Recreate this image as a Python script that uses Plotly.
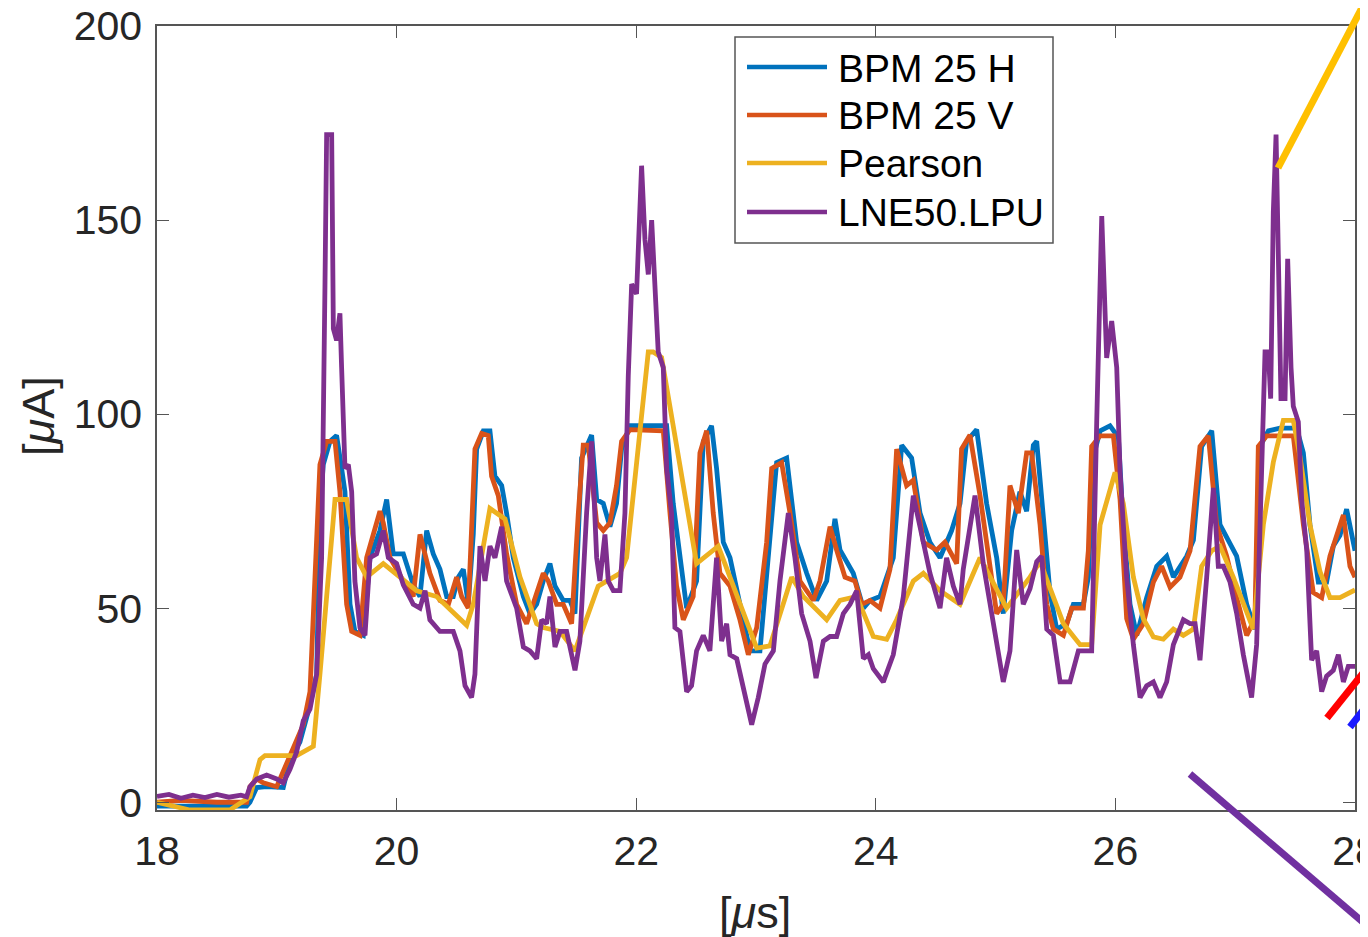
import plotly.graph_objects as go

# BPM 25 H
bpm_h_t = [18.0, 18.3, 18.748, 18.776, 18.832, 18.915, 18.999, 19.054, 19.110, 19.193, 19.277, 19.333,
           19.360, 19.388, 19.444, 19.499, 19.541, 19.569, 19.611, 19.652, 19.722, 19.778, 19.861, 19.917,
           19.972, 20.056, 20.139, 20.195, 20.251, 20.306, 20.362, 20.418, 20.473, 20.515, 20.557, 20.598,
           20.640, 20.668, 20.724, 20.779, 20.821, 20.877, 20.918, 20.974, 21.058, 21.113, 21.169, 21.224,
           21.280, 21.322, 21.391, 21.447, 21.489, 21.544, 21.628, 21.670, 21.725, 21.781, 21.836, 21.878,
           21.948, 22.254, 22.309, 22.365, 22.421, 22.504, 22.560, 22.629, 22.671, 22.727, 22.783, 22.866,
           22.950, 23.033, 23.103, 23.172, 23.256, 23.339, 23.423, 23.506, 23.590, 23.659, 23.701, 23.812,
           23.896, 23.951, 24.035, 24.146, 24.216, 24.299, 24.369, 24.452, 24.536, 24.633, 24.703, 24.758,
           24.842, 24.925, 25.009, 25.064, 25.134, 25.203, 25.259, 25.315, 25.343, 25.399, 25.454, 25.510,
           25.593, 25.649, 25.733, 25.774, 25.816, 25.872, 25.955, 26.025, 26.066, 26.122, 26.178, 26.261,
           26.345, 26.428, 26.484, 26.595, 26.651, 26.720, 26.804, 26.873, 26.943, 27.012, 27.096, 27.165,
           27.207, 27.277, 27.374, 27.513, 27.569, 27.624, 27.694, 27.763, 27.819, 27.875, 27.930, 28.0]
bpm_h = [-1, -1, -1, 0, 3.8, 4, 3.8, 3.8, 11, 15.5, 25, 33,
         75, 87, 93, 94.5, 86, 80, 51, 44, 43, 63, 70, 78,
         64, 64, 56, 53, 70, 64, 60, 53, 53, 58, 60, 51,
         69, 91, 95.7, 95.7, 84, 81.6, 74.5, 63, 53, 48.6, 51, 57,
         61.5, 55.7, 52, 52, 48.6, 88.7, 94.6, 78, 77, 71, 77, 91,
         97, 97, 77, 63, 50, 57, 93, 97, 86, 67, 63, 51,
         39, 39, 63, 87.5, 88.7, 67, 59, 52, 57, 73, 65, 59,
         50, 52, 53, 63, 92, 88.7, 74.5, 67, 63, 70, 77, 93,
         96, 77, 63, 48.6, 70, 80, 75, 92, 93, 71.5, 54, 44.6,
         46, 51, 51, 58, 89, 95.7, 97, 94, 71.5, 51, 43, 52.7,
         60.8, 63.4, 58, 63.4, 67.5, 91.7, 95.7, 71.5, 67.5, 63.4, 51, 44.6,
         91.7, 95.7, 96.4, 96.4, 90, 71.5, 56.7, 56.7, 66, 68.8, 75.5, 64.8]

# BPM 25 V
bpm_v_t = [18.0, 18.2, 18.5, 18.748, 18.776, 18.832, 18.887, 18.999, 19.110, 19.221, 19.277, 19.333,
           19.360, 19.416, 19.486, 19.527, 19.583, 19.625, 19.694, 19.750, 19.861, 19.889, 19.945, 20.056,
           20.139, 20.195, 20.278, 20.362, 20.432, 20.501, 20.543, 20.598, 20.626, 20.654, 20.710, 20.765,
           20.793, 20.849, 20.918, 21.002, 21.085, 21.141, 21.224, 21.266, 21.336, 21.391, 21.461, 21.517,
           21.558, 21.600, 21.670, 21.725, 21.781, 21.836, 21.878, 21.948, 22.031, 22.226, 22.282, 22.337,
           22.393, 22.476, 22.532, 22.588, 22.643, 22.699, 22.783, 22.866, 22.936, 23.006, 23.089, 23.131,
           23.214, 23.284, 23.367, 23.479, 23.534, 23.618, 23.673, 23.743, 23.826, 23.882, 23.951, 24.035,
           24.118, 24.174, 24.257, 24.313, 24.397, 24.508, 24.577, 24.675, 24.716, 24.786, 24.870, 24.953,
           25.009, 25.064, 25.120, 25.190, 25.259, 25.301, 25.371, 25.427, 25.482, 25.566, 25.635, 25.733,
           25.774, 25.802, 25.872, 25.983, 26.039, 26.094, 26.150, 26.233, 26.317, 26.386, 26.456, 26.539,
           26.623, 26.706, 26.776, 26.845, 26.929, 27.012, 27.096, 27.165, 27.193, 27.263, 27.485, 27.569,
           27.652, 27.722, 27.791, 27.903, 27.958, 28.0]
bpm_v = [0, 0.5, 0, 0, 4, 6, 5, 4, 12, 20, 28.5, 69,
         87, 93, 93, 80, 51, 44, 43, 63, 75, 72, 63, 57,
         53, 69, 59, 52, 51, 58, 53, 50, 74.5, 91, 95, 94.5,
         84, 79, 64, 51, 46, 51, 59, 57, 51, 51, 46, 74.5,
         92, 92, 72, 70, 72, 81.6, 93, 96, 96, 95.7, 74.5, 55.7,
         47, 53, 90, 95.7, 74.5, 59, 55.7, 47, 38, 45, 67, 86,
         87.5, 74.5, 57, 52, 57, 71, 65, 58, 57, 51, 52, 50,
         60, 91, 81.6, 83, 67, 65, 67, 61.5, 91, 94.6, 79, 60,
         48.6, 51, 81.6, 74.5, 90, 90, 71.5, 51, 44.6, 43, 50, 50,
         64.8, 91.7, 94.4, 94.4, 78, 47.3, 42, 46, 56.7, 60.8, 55.4, 58,
         64.8, 91.7, 94.4, 71.5, 63.4, 52.7, 43, 47.3, 91.7, 94.4, 94.4, 71.5,
         54, 52.7, 63.4, 74, 60.8, 58]

# Pearson
pearson_t = [18.0, 18.275, 18.609, 18.776, 18.860, 18.901, 19.166, 19.305, 19.360, 19.444, 19.486, 19.583,
             19.666, 19.750, 19.889, 20.028, 20.167, 20.334, 20.585, 20.640, 20.779, 20.905, 21.030, 21.169,
             21.224, 21.364, 21.489, 21.683, 21.864, 21.920, 22.101, 22.142, 22.212, 22.504, 22.685, 22.783,
             23.006, 23.117, 23.298, 23.395, 23.590, 23.701, 23.840, 23.979, 24.091, 24.174, 24.313, 24.397,
             24.536, 24.703, 24.870, 25.092, 25.287, 25.371, 25.482, 25.566, 25.705, 25.802, 25.872, 25.927,
             25.997, 26.066, 26.150, 26.233, 26.317, 26.400, 26.484, 26.567, 26.651, 26.720, 26.804, 26.873,
             26.984, 27.151, 27.235, 27.318, 27.402, 27.485, 27.541, 27.624, 27.708, 27.791, 27.875, 28.0]
pearson = [0, -2, -2, 1.4, 11, 12, 12, 14.4, 33, 63, 78, 78,
           63, 58, 61.5, 58, 54.5, 53, 45.6, 51, 75.7, 73, 58, 46,
           45, 44, 39, 55.7, 59, 63, 116, 116, 114.6, 61.5, 66, 58,
           39.7, 40.3, 58, 53, 47, 52, 53, 42.7, 42, 47, 57, 59,
           54.5, 51, 63, 50, 58, 62, 52.7, 46, 40.6, 40.6, 71.5, 77,
           85, 77, 58, 47.3, 42.6, 42, 44.6, 43, 44.6, 60.8, 64.8, 66,
           58, 44.6, 71.5, 87.6, 98.4, 98.4, 89, 71.5, 59.4, 52.7, 52.7, 54.7]

# LNE50.LPU
lpu_t = [18.0, 18.1, 18.2, 18.3, 18.4, 18.5, 18.6, 18.7, 18.748, 18.776, 18.832, 18.915,
         18.999, 19.054, 19.110, 19.166, 19.221, 19.277, 19.333, 19.374, 19.402, 19.416, 19.458, 19.472,
         19.499, 19.527, 19.541, 19.569, 19.597, 19.625, 19.652, 19.694, 19.736, 19.778, 19.833, 19.889,
         19.931, 20.000, 20.056, 20.139, 20.195, 20.237, 20.278, 20.362, 20.473, 20.529, 20.571, 20.626,
         20.654, 20.696, 20.738, 20.779, 20.821, 20.877, 20.918, 21.002, 21.058, 21.113, 21.169, 21.211,
         21.252, 21.280, 21.322, 21.364, 21.419, 21.489, 21.530, 21.586, 21.628, 21.670, 21.697, 21.739,
         21.767, 21.809, 21.864, 21.906, 21.934, 21.962, 22.003, 22.045, 22.073, 22.101, 22.129, 22.156,
         22.184, 22.226, 22.254, 22.295, 22.323, 22.365, 22.421, 22.462, 22.504, 22.560, 22.615, 22.671,
         22.713, 22.755, 22.783, 22.839, 22.894, 22.964, 23.019, 23.075, 23.145, 23.200, 23.270, 23.325,
         23.381, 23.451, 23.501, 23.562, 23.618, 23.673, 23.729, 23.785, 23.840, 23.896, 23.938, 23.979,
         24.063, 24.146, 24.230, 24.313, 24.369, 24.452, 24.536, 24.591, 24.647, 24.703, 24.730, 24.828,
         24.897, 24.981, 25.064, 25.120, 25.176, 25.231, 25.287, 25.343, 25.385, 25.427, 25.482, 25.538,
         25.621, 25.691, 25.760, 25.802, 25.844, 25.886, 25.927, 25.969, 26.011, 26.039, 26.094, 26.150,
         26.206, 26.261, 26.317, 26.372, 26.428, 26.484, 26.567, 26.623, 26.665, 26.706, 26.762, 26.818,
         26.859, 26.901, 26.957, 27.012, 27.068, 27.137, 27.179, 27.221, 27.249, 27.277, 27.296, 27.318,
         27.341, 27.360, 27.382, 27.416, 27.438, 27.466, 27.485, 27.527, 27.555, 27.597, 27.638, 27.680,
         27.722, 27.763, 27.819, 27.861, 27.903, 27.944, 28.0]
lpu = [1.5, 2.0, 1.0, 1.8, 1.2, 2.0, 1.3, 1.8, 1.4, 4, 6, 7,
       6, 5, 8.5, 13, 21, 24, 33, 63, 133, 172, 172, 122,
       119, 126, 112, 86, 87, 80, 57, 45, 43, 63, 64, 70,
       63, 61.5, 56, 51, 50, 54.5, 47, 44, 44, 39, 30, 27,
       33, 66, 57, 66, 63, 71, 57, 50, 40, 39, 37, 47,
       46, 53, 40, 44, 44, 34, 41.5, 74.5, 93, 63, 57, 69,
       57, 54.5, 54.5, 74.5, 110, 133.5, 131, 164, 145, 136, 150, 133.5,
       116, 112, 86, 74.5, 45, 44, 28.5, 30, 39, 43, 39, 63,
       41.5, 46, 38, 37, 29.7, 20, 27, 35.6, 39, 57, 74.5, 63,
       48.6, 41.5, 32, 41.5, 42.7, 42.7, 48.6, 51, 54.5, 37, 38, 34.4,
       31, 38, 53, 79, 71, 59, 50, 63, 55.7, 51, 60, 79,
       61.5, 46, 31, 39, 65, 51, 55, 62, 63.4, 44.6, 43, 31,
       31, 39, 39, 39, 98, 151, 114.5, 124, 112, 85, 58, 40.6,
       27, 30, 31, 27, 31, 40.6, 47, 46, 46, 36.6, 58, 81,
       60.8, 60.8, 56.7, 48.7, 38, 27, 40.6, 85, 116, 116, 104, 152,
       172, 141, 104, 104, 140, 112, 102, 98, 78, 65, 36.6, 39,
       28.5, 32.5, 34, 38, 31, 35, 35]

names = ["BPM 25 H", "BPM 25 V", "Pearson", "LNE50.LPU"]
colors = ["#0072BD", "#D95319", "#EDB120", "#7E2F8E"]
series = [(bpm_h_t, bpm_h), (bpm_v_t, bpm_v), (pearson_t, pearson), (lpu_t, lpu)]

# screen pixels; the page body adds an 8 px margin around the figure
PAGE_W, PAGE_H, OFF = 1368, 937, 8
L, R, T, B = 157, 1355, 26, 810
FONT = "Liberation Sans, Arial, Helvetica, sans-serif"
INK = "#262626"


def px(x):
    return (x - L) / (R - L)


def py(y):
    return (B - y) / (B - T)


fig = go.Figure()
for (t, v), name, c in zip(series, names, colors):
    fig.add_trace(go.Scatter(x=t, y=v, mode="lines", name=name,
                             line=dict(color=c, width=4.8), showlegend=False))

axis_common = dict(showgrid=False, zeroline=False, showline=True, linecolor="#555555", linewidth=1.5,
                   mirror="ticks", ticks="inside", ticklen=12, tickwidth=1.2, tickcolor="#555555",
                   automargin=False, ticklabeloverflow="allow",
                   tickfont=dict(family=FONT, size=41, color=INK))

fig.update_layout(
    width=PAGE_W - OFF, height=PAGE_H - OFF,
    margin=dict(l=L - OFF, r=PAGE_W - R, t=T - OFF, b=PAGE_H - B, autoexpand=False),
    paper_bgcolor="white", plot_bgcolor="white",
    xaxis=dict(range=[18, 28], tickvals=[18, 20, 22, 24, 26, 28], ticklabelstandoff=4, **axis_common),
    yaxis=dict(range=[-2, 200], tickvals=[0, 50, 100, 150, 200], ticklabelstandoff=5, **axis_common),
)

# axis titles
fig.add_annotation(x=px(755), y=py(912), xref="paper", yref="paper", text="[<i>μ</i>s]",
                   xanchor="center", yanchor="middle",
                   showarrow=False, font=dict(family=FONT, size=45, color=INK))
fig.add_annotation(x=px(38), y=py(416), xref="paper", yref="paper", text="[<i>μ</i>A]", textangle=-90,
                   xanchor="center", yanchor="middle",
                   showarrow=False, font=dict(family=FONT, size=45, color=INK))

# legend box drawn like the MATLAB one
fig.add_shape(type="rect", xref="paper", yref="paper", x0=px(735), x1=px(1053), y0=py(243), y1=py(37),
              line=dict(color="#555555", width=1.5), fillcolor="white", layer="above")
rows = [67, 115, 163, 212]
for name, c, ry in zip(names, colors, rows):
    fig.add_shape(type="line", xref="paper", yref="paper", x0=px(747), x1=px(827), y0=py(ry), y1=py(ry),
                  line=dict(color=c, width=4.5), layer="above")
    fig.add_annotation(x=px(836), y=py(ry + 1), xref="paper", yref="paper", text=name, xanchor="left",
                       yanchor="middle", showarrow=False, font=dict(family=FONT, size=39, color="black"))

# callout lines from the surrounding slide, cut by the crop
callouts = [
    ("#FFC000", 1278, 168, 1366, 0),
    ("#FF0000", 1327, 718, 1372, 662),
    ("#1A1AFF", 1350, 727, 1372, 699),
    ("#7030A0", 1190, 774, 1372, 930),
]
for c, x0, y0, x1, y1 in callouts:
    fig.add_shape(type="line", xref="paper", yref="paper", x0=px(x0), y0=py(y0), x1=px(x1), y1=py(y1),
                  line=dict(color=c, width=7), layer="above")

fig.write_html("out.html")
